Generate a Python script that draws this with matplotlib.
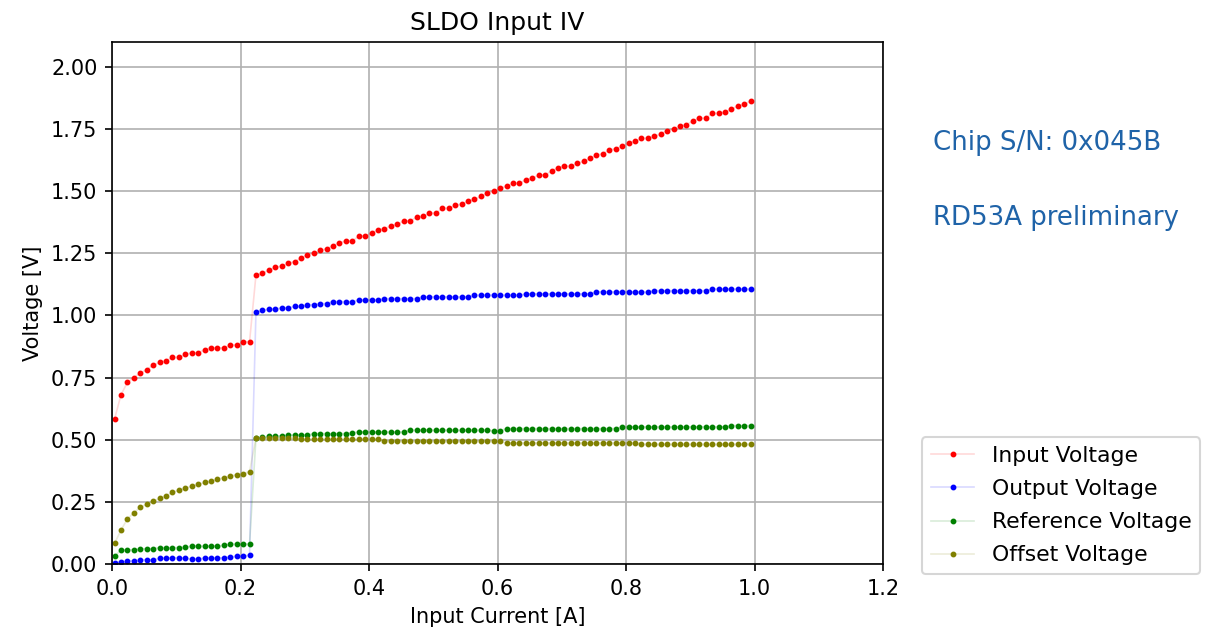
import matplotlib
matplotlib.use("Agg")
import matplotlib.pyplot as plt

current = [0.004, 0.014, 0.024, 0.034, 0.044, 0.054, 0.064, 0.074, 0.084, 0.094,
           0.104, 0.114, 0.124, 0.134, 0.144, 0.154, 0.164, 0.174, 0.184, 0.194,
           0.204, 0.214, 0.224, 0.234, 0.244, 0.254, 0.264, 0.274, 0.284, 0.294,
           0.304, 0.314, 0.324, 0.334, 0.344, 0.354, 0.364, 0.374, 0.384, 0.394,
           0.404, 0.414, 0.424, 0.434, 0.444, 0.454, 0.464, 0.474, 0.484, 0.494,
           0.504, 0.514, 0.524, 0.534, 0.544, 0.554, 0.564, 0.574, 0.584, 0.594,
           0.604, 0.614, 0.624, 0.634, 0.644, 0.654, 0.664, 0.674, 0.684, 0.694,
           0.704, 0.714, 0.724, 0.734, 0.744, 0.754, 0.764, 0.774, 0.784, 0.794,
           0.804, 0.814, 0.824, 0.834, 0.844, 0.854, 0.864, 0.874, 0.884, 0.894,
           0.904, 0.914, 0.924, 0.934, 0.944, 0.954, 0.964, 0.974, 0.984, 0.994]

input_voltage = [0.584, 0.681, 0.731, 0.750, 0.768, 0.782, 0.800, 0.811, 0.818, 0.831,
                 0.831, 0.843, 0.850, 0.850, 0.862, 0.870, 0.870, 0.869, 0.881, 0.881,
                 0.894, 0.894, 1.162, 1.169, 1.183, 1.193, 1.199, 1.209, 1.217, 1.230,
                 1.245, 1.250, 1.262, 1.268, 1.281, 1.293, 1.299, 1.299, 1.319, 1.319,
                 1.332, 1.344, 1.349, 1.360, 1.367, 1.380, 1.380, 1.395, 1.400, 1.411,
                 1.411, 1.431, 1.431, 1.443, 1.448, 1.460, 1.467, 1.479, 1.493, 1.500,
                 1.511, 1.521, 1.531, 1.531, 1.546, 1.552, 1.565, 1.565, 1.581, 1.594,
                 1.601, 1.600, 1.613, 1.620, 1.632, 1.645, 1.651, 1.665, 1.671, 1.681,
                 1.695, 1.701, 1.712, 1.713, 1.720, 1.731, 1.744, 1.750, 1.762, 1.768,
                 1.782, 1.794, 1.793, 1.813, 1.813, 1.818, 1.830, 1.843, 1.850, 1.863]

output_voltage = [0.005, 0.009, 0.012, 0.013, 0.016, 0.017, 0.017, 0.023, 0.024, 0.025,
                  0.025, 0.023, 0.020, 0.020, 0.024, 0.025, 0.025, 0.025, 0.028, 0.031,
                  0.031, 0.036, 1.013, 1.020, 1.025, 1.025, 1.031, 1.031, 1.036, 1.036,
                  1.043, 1.043, 1.048, 1.048, 1.056, 1.056, 1.056, 1.056, 1.062, 1.062,
                  1.062, 1.062, 1.068, 1.068, 1.068, 1.068, 1.068, 1.068, 1.075, 1.075,
                  1.075, 1.075, 1.075, 1.075, 1.075, 1.075, 1.081, 1.081, 1.081, 1.081,
                  1.081, 1.081, 1.081, 1.081, 1.087, 1.087, 1.087, 1.087, 1.087, 1.087,
                  1.087, 1.087, 1.087, 1.087, 1.087, 1.095, 1.095, 1.095, 1.095, 1.095,
                  1.095, 1.095, 1.095, 1.093, 1.100, 1.100, 1.100, 1.100, 1.100, 1.100,
                  1.100, 1.100, 1.100, 1.106, 1.106, 1.106, 1.106, 1.106, 1.106, 1.106]

reference_voltage = [0.032, 0.056, 0.056, 0.058, 0.060, 0.062, 0.062, 0.066, 0.066, 0.066,
                     0.066, 0.067, 0.072, 0.072, 0.071, 0.072, 0.072, 0.075, 0.079, 0.080,
                     0.080, 0.080, 0.507, 0.509, 0.514, 0.514, 0.516, 0.519, 0.519, 0.519,
                     0.519, 0.525, 0.525, 0.525, 0.525, 0.525, 0.525, 0.529, 0.531, 0.531,
                     0.531, 0.531, 0.531, 0.531, 0.531, 0.531, 0.538, 0.538, 0.538, 0.538,
                     0.538, 0.538, 0.538, 0.538, 0.538, 0.538, 0.538, 0.538, 0.538, 0.536,
                     0.536, 0.545, 0.545, 0.545, 0.545, 0.545, 0.545, 0.545, 0.545, 0.545,
                     0.545, 0.545, 0.545, 0.545, 0.545, 0.545, 0.545, 0.545, 0.545, 0.552,
                     0.552, 0.552, 0.552, 0.552, 0.552, 0.552, 0.552, 0.552, 0.552, 0.552,
                     0.552, 0.552, 0.552, 0.552, 0.552, 0.552, 0.557, 0.557, 0.557, 0.557]

offset_voltage = [0.083, 0.137, 0.181, 0.206, 0.228, 0.241, 0.252, 0.264, 0.274, 0.288,
                  0.297, 0.305, 0.313, 0.320, 0.328, 0.333, 0.341, 0.348, 0.353, 0.360,
                  0.364, 0.371, 0.505, 0.506, 0.507, 0.507, 0.507, 0.507, 0.507, 0.501,
                  0.501, 0.501, 0.501, 0.501, 0.501, 0.501, 0.501, 0.501, 0.501, 0.501,
                  0.501, 0.501, 0.493, 0.493, 0.493, 0.493, 0.493, 0.493, 0.493, 0.493,
                  0.493, 0.493, 0.493, 0.493, 0.493, 0.493, 0.493, 0.493, 0.493, 0.493,
                  0.493, 0.487, 0.487, 0.487, 0.487, 0.487, 0.487, 0.487, 0.487, 0.487,
                  0.487, 0.487, 0.487, 0.487, 0.487, 0.487, 0.487, 0.487, 0.487, 0.487,
                  0.487, 0.487, 0.481, 0.481, 0.481, 0.481, 0.481, 0.481, 0.481, 0.481,
                  0.481, 0.481, 0.481, 0.481, 0.481, 0.481, 0.481, 0.481, 0.481, 0.481]

series_names = ["Input Voltage", "Output Voltage", "Reference Voltage", "Offset Voltage"]
series_values = [input_voltage, output_voltage, reference_voltage, offset_voltage]
series_colors = [(1.0, 0.0, 0.0), (0.0, 0.0, 1.0), (0.0, 0.5, 0.0), (0.5, 0.5, 0.0)]

x_ticks = [0.0, 0.2, 0.4, 0.6, 0.8, 1.0, 1.2]
y_ticks = [0.00, 0.25, 0.50, 0.75, 1.00, 1.25, 1.50, 1.75, 2.00]

fig = plt.figure(figsize=(8.04, 4.22), dpi=150)
ax = fig.add_axes([0.0929, 0.109, 0.6393, 0.8246])

for name, vals, col in zip(series_names, series_values, series_colors):
    ax.plot(current, vals, color=col + (0.15,), linewidth=0.8,
            marker='.', markersize=3.6, markerfacecolor=col, markeredgecolor=col,
            label=name)

ax.set_xlim(0, 1.2)
ax.set_ylim(0, 2.1)
ax.set_xticks(x_ticks)
ax.set_yticks(y_ticks)
ax.set_yticklabels([f"{v:.2f}" for v in y_ticks])
ax.grid(True)
ax.set_axisbelow(True)
ax.set_title("SLDO Input IV", fontsize=12)
ax.set_xlabel("Input Current [A]")
ax.set_ylabel("Voltage [V]")

fig.text(0.7736, 0.774, "Chip S/N: 0x045B", color="#1f63a8", fontsize=12.5, va="center")
fig.text(0.7736, 0.656, "RD53A preliminary", color="#1f63a8", fontsize=12.5, va="center")

fig.legend(loc="lower left", bbox_to_anchor=(0.7645, 0.093), fontsize=10.5,
           labelspacing=0.6, borderaxespad=0.0)

fig.savefig("out.png", dpi=150)
